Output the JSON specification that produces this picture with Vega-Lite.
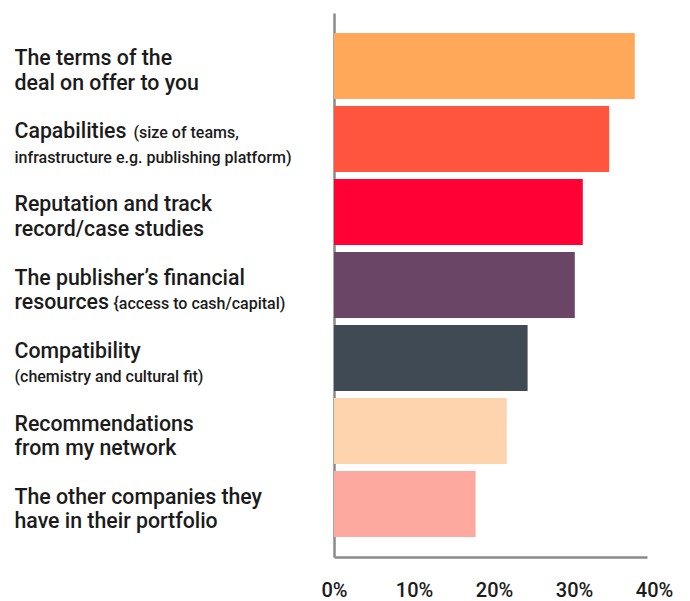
{
  "$schema": "https://vega.github.io/schema/vega-lite/v6.json",
  "autosize": "none",
  "width": 320,
  "height": 544,
  "padding": {"left": 334, "top": 13, "right": 36, "bottom": 44},
  "background": "white",
  "config": {
    "view": {"stroke": null},
    "font": "Roboto"
  },
  "data": {
    "values": [
      {"factor": "Terms of the deal", "share": 37.6},
      {"factor": "Capabilities", "share": 34.4},
      {"factor": "Reputation", "share": 31.1},
      {"factor": "Financial resources", "share": 30.1},
      {"factor": "Compatibility", "share": 24.2},
      {"factor": "Recommendations", "share": 21.6},
      {"factor": "Portfolio companies", "share": 17.7}
    ]
  },
  "resolve": {"axis": {"y": "independent"}},
  "layer": [
    {
      "mark": {"type": "bar"},
      "encoding": {
        "y": {
          "field": "factor",
          "type": "nominal",
          "sort": null,
          "scale": {"paddingInner": 0.096, "paddingOuter": 0.274},
          "axis": {
            "orient": "left",
            "title": null,
            "ticks": false,
            "tickSize": 0,
            "grid": false,
            "domain": true,
            "domainColor": "#8a8a8a",
            "domainWidth": 2.5,
            "labelAlign": "left",
            "labelBaseline": "middle",
            "labelPadding": 320,
            "labelOffset": -6.5,
            "labelFont": "Roboto",
            "labelFontSize": 21.3,
            "labelFontWeight": 500,
            "labelColor": "#1b1b1b",
            "labelLineHeight": 24.5,
            "labelLimit": 0,
            "labelOverlap": false,
            "labelExpr": "datum.value == 'Terms of the deal' ? ['The terms of the', 'deal on offer to you'] : datum.value == 'Capabilities' ? ['Capabilities', ''] : datum.value == 'Reputation' ? ['Reputation and track', 'record/case studies'] : datum.value == 'Financial resources' ? ['The publisher’s financial', 'resources'] : datum.value == 'Compatibility' ? ['Compatibility', ''] : datum.value == 'Recommendations' ? ['Recommendations', 'from my network'] : ['The other companies they', 'have in their portfolio']"
          }
        },
        "x": {
          "field": "share",
          "type": "quantitative",
          "scale": {"domain": [0, 40], "nice": false},
          "axis": {
            "title": null,
            "values": [0, 10, 20, 30, 40],
            "format": ".0f",
            "labelExpr": "datum.label + '%'",
            "ticks": false,
            "tickSize": 0,
            "grid": false,
            "domainColor": "#8a8a8a",
            "domainWidth": 2.5,
            "domainDash": [313, 40],
            "labelPadding": 23,
            "labelBaseline": "top",
            "labelAlign": "center",
            "labelFont": "Roboto",
            "labelFontSize": 20,
            "labelFontWeight": 500,
            "labelColor": "#1b1b1b",
            "labelFlush": false,
            "labelOverlap": false
          }
        },
        "color": {
          "field": "factor",
          "type": "nominal",
          "legend": null,
          "scale": {
            "domain": ["Terms of the deal", "Capabilities", "Reputation", "Financial resources", "Compatibility", "Recommendations", "Portfolio companies"],
            "range": ["#FFA85A", "#FF553F", "#FF0134", "#6B4565", "#404A55", "#FED4AE", "#FEA9A0"]
          }
        }
      }
    },
    {
      "mark": {"type": "bar", "opacity": 0},
      "encoding": {
        "y": {
          "field": "factor",
          "type": "nominal",
          "sort": null,
          "axis": {
            "orient": "left",
            "title": null,
            "ticks": false,
            "tickSize": 0,
            "grid": false,
            "domain": false,
            "labelAlign": "left",
            "labelBaseline": "middle",
            "labelPadding": {"condition": {"test": "datum.value == 'Capabilities'", "value": 201}, "value": 221},
            "labelOffset": -5.5,
            "labelFont": "Roboto",
            "labelFontSize": 16,
            "labelFontWeight": 500,
            "labelColor": "#1b1b1b",
            "labelLineHeight": 24.5,
            "labelLimit": 0,
            "labelOverlap": false,
            "labelExpr": "datum.value == 'Capabilities' ? ['(size of teams,', ''] : datum.value == 'Financial resources' ? ['', '{access to cash/capital)'] : ''"
          }
        }
      }
    },
    {
      "mark": {"type": "bar", "opacity": 0},
      "encoding": {
        "y": {
          "field": "factor",
          "type": "nominal",
          "sort": null,
          "axis": {
            "orient": "left",
            "title": null,
            "ticks": false,
            "tickSize": 0,
            "grid": false,
            "domain": false,
            "labelAlign": "left",
            "labelBaseline": "middle",
            "labelPadding": 320,
            "labelOffset": -5.5,
            "labelFont": "Roboto",
            "labelFontSize": 16,
            "labelFontWeight": 500,
            "labelColor": "#1b1b1b",
            "labelLineHeight": 24.5,
            "labelLimit": 0,
            "labelOverlap": false,
            "labelExpr": "datum.value == 'Capabilities' ? ['', 'infrastructure e.g. publishing platform)'] : datum.value == 'Compatibility' ? ['', '(chemistry and cultural fit)'] : ''"
          }
        }
      }
    }
  ]
}
